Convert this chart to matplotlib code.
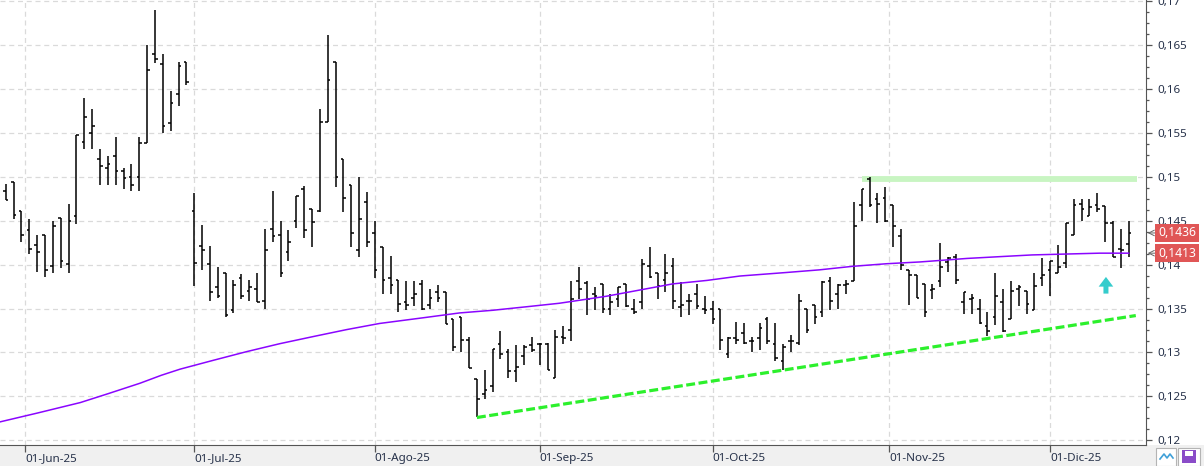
import matplotlib
matplotlib.use('Agg')
import matplotlib.pyplot as plt
import matplotlib.transforms as mtransforms
from matplotlib.patches import Rectangle
from matplotlib.ticker import MultipleLocator, FuncFormatter
import numpy as np
import pandas as pd

# daily OHLC bars, 28-May-25 .. 15-Dic-25
opens = [.1484, .1494, .1461, .1439, .1422, .1434, .1398, .1453, .1401, .1455,
         .1540, .1550, .1520, .1510, .1524, .1507, .1500, .1500, .1538, .1640,
         .1628, .1561, .1594, .1630, .1461, .1421, .1401, .1374, .1391, .1348,
         .1385, .1370, .1372, .1359, .1441, .1434, .1414, .1450, .1486, .1463,
         .1461, .1562, .1631, .1520, .1491, .1417, .1471, .1436, .1420, .1385,
         .1383, .1357, .1362, .1378, .1354, .1369, .1369, .1338, .1340, .1314,
         .1270, .1253, .1262, .1310, .1300, .1279, .1296, .1308, .1310, .1310,
         .1271, .1318, .1326, .1381, .1379, .1366, .1378, .1350, .1361, .1378,
         .1350, .1357, .1398, .1391, .1382, .1398, .1352, .1359, .1366, .1350,
         .1350, .1350, .1298, .1316, .1322, .1313, .1316, .1338, .1310, .1290,
         .1313, .1311, .1350, .1354, .1346, .1381, .1366, .1377, .1381, .1468,
         .1497, .1475, .1476, .1468, .1433, .1394, .1388, .1378, .1371, .1381,
         .1403, .1409, .1357, .1361, .1350, .1330, .1340, .1357, .1338, .1372,
         .1370, .1348, .1385, .1394, .1391, .1402, .1434, .1469, .1455, .1468,
         .1467, .1447, .1418, .1424]
highs = [.1492, .1494, .1461, .1452, .1434, .1434, .1450, .1453, .1469, .1548,
         .1590, .1577, .1531, .1524, .1545, .1510, .1515, .1545, .1650, .1690,
         .1640, .1597, .1630, .1630, .1481, .1445, .1421, .1397, .1391, .1383,
         .1389, .1383, .1391, .1441, .1484, .1450, .1439, .1478, .1489, .1463,
         .1577, .1661, .1631, .1520, .1491, .1500, .1483, .1450, .1420, .1410,
         .1383, .1381, .1381, .1383, .1372, .1377, .1369, .1338, .1340, .1318,
         .1270, .1280, .1304, .1324, .1304, .1308, .1308, .1318, .1311, .1311,
         .1326, .1330, .1381, .1397, .1381, .1374, .1378, .1366, .1375, .1378,
         .1361, .1406, .1420, .1391, .1412, .1407, .1380, .1366, .1378, .1364,
         .1359, .1350, .1318, .1335, .1333, .1318, .1334, .1340, .1334, .1310,
         .1320, .1366, .1350, .1354, .1381, .1386, .1378, .1383, .1471, .1486,
         .1500, .1481, .1488, .1468, .1441, .1394, .1388, .1378, .1378, .1425,
         .1409, .1412, .1369, .1366, .1361, .1346, .1391, .1372, .1381, .1377,
         .1370, .1391, .1407, .1404, .1422, .1447, .1475, .1475, .1475, .1481,
         .1467, .1450, .1441, .1450]
lows = [.1473, .1452, .1426, .1412, .1392, .1386, .1390, .1396, .1390, .1446,
        .1531, .1531, .1491, .1491, .1491, .1486, .1484, .1484, .1538, .1629,
        .1550, .1552, .1581, .1604, .1376, .1394, .1358, .1362, .1340, .1345,
        .1361, .1358, .1357, .1350, .1426, .1386, .1404, .1442, .1430, .1420,
        .1460, .1562, .1488, .1460, .1420, .1409, .1420, .1385, .1366, .1366,
        .1346, .1348, .1353, .1348, .1350, .1357, .1332, .1302, .1300, .1282,
        .1226, .1247, .1255, .1292, .1271, .1266, .1286, .1300, .1286, .1280,
        .1271, .1310, .1313, .1361, .1343, .1348, .1345, .1343, .1352, .1352,
        .1344, .1350, .1385, .1361, .1369, .1350, .1340, .1343, .1350, .1344,
        .1332, .1303, .1294, .1310, .1310, .1300, .1303, .1310, .1290, .1280,
        .1300, .1308, .1322, .1332, .1340, .1348, .1350, .1366, .1381, .1450,
        .1465, .1447, .1449, .1420, .1394, .1354, .1362, .1340, .1361, .1374,
        .1392, .1378, .1344, .1344, .1332, .1319, .1331, .1323, .1338, .1353,
        .1344, .1348, .1376, .1364, .1391, .1396, .1434, .1450, .1455, .1460,
        .1426, .1409, .1396, .1409]
closes = [.1474, .1457, .1434, .1418, .1414, .1394, .1444, .1404, .1450, .1547,
          .1568, .1558, .1512, .1515, .1507, .1499, .1491, .1538, .1621, .1634,
          .1558, .1584, .1626, .1608, .1402, .1417, .1369, .1364, .1343, .1377,
          .1364, .1374, .1357, .1417, .1433, .1391, .1426, .1478, .1439, .1449,
          .1562, .1610, .1500, .1476, .1436, .1452, .1426, .1394, .1383, .1377,
          .1355, .1354, .1367, .1350, .1362, .1362, .1332, .1306, .1314, .1282,
          .1247, .1257, .1304, .1298, .1279, .1284, .1306, .1303, .1310, .1280,
          .1318, .1316, .1361, .1372, .1361, .1364, .1350, .1357, .1375, .1353,
          .1346, .1401, .1386, .1376, .1391, .1359, .1354, .1359, .1353, .1348,
          .1338, .1314, .1316, .1314, .1311, .1313, .1328, .1313, .1294, .1306,
          .1313, .1359, .1326, .1340, .1380, .1359, .1377, .1378, .1444, .1486,
          .1468, .1469, .1450, .1444, .1400, .1388, .1362, .1346, .1372, .1397,
          .1407, .1383, .1369, .1362, .1334, .1324, .1364, .1324, .1370, .1374,
          .1355, .1376, .1388, .1404, .1397, .1447, .1468, .1463, .1466, .1463,
          .1447, .1409, .1417, .1436]

# long moving average, read at a set of bar positions
ma_pos = [-0.73, 4.0, 9.5, 13.0, 17.1, 19.8, 22.2, 26.4, 30.7, 34.9, 39.1, 43.4,
          47.6, 53.6, 57.8, 62.0, 66.3, 70.5, 76.5, 80.7, 84.9, 89.3, 93.5, 99.4,
          103.6, 107.8, 112.2, 116.4, 122.4, 126.5, 130.7, 139.3, 143.0]
ma_vals = [.1221, .1231, .1243, .1253, .1265, .1274, .1281, .1291, .1301, .1310,
           .1318, .1326, .1333, .1340, .1345, .1348, .1352, .1356, .1364, .1371,
           .1378, .1382, .1387, .1391, .1394, .1398, .1401, .1403, .1407, .1409,
           .1411, .1413, .1413]

trend_pos = [60, 143.9]
trend_vals = [.1226, .1342]
resist_pos = [109, 144.1]
resist_level = .14975
signal_pos = 140.1
signal_vals = [.1367, .1386]

tick_labels = ['01-Jun-25', '01-Jul-25', '01-Ago-25', '01-Sep-25',
               '01-Oct-25', '01-Nov-25', '01-Dic-25']
month_starts = pd.to_datetime(['2025-06-01', '2025-07-01', '2025-08-01', '2025-09-01',
                               '2025-10-01', '2025-11-01', '2025-12-01'])
last_labels = [.1436, .1413]

dates = pd.bdate_range('2025-05-28', periods=len(closes))
x = np.arange(len(closes))
tick_pos = []
for d in month_starts:
    k = dates.searchsorted(d)
    tick_pos.append(k if dates[k] == d else k - 0.5)

txt_col = '#27324a'
plt.rcParams['font.family'] = ['Noto Sans', 'DejaVu Sans']

fig = plt.figure(figsize=(12.04, 4.66), dpi=100, facecolor='white')
fig.patches.append(Rectangle((0, 0), 1, 21 / 466, transform=fig.transFigure,
                             facecolor='#f0f0f0', edgecolor='none', zorder=-5))
ax = fig.add_axes([0, 21 / 466, 1146 / 1204, 445 / 466])
ax.set_facecolor('white')

# bars
lw = 1.1
ax.vlines(x, lows, highs, color='black', lw=lw, zorder=3)
ax.hlines(opens, x - 0.34, x, color='black', lw=lw, zorder=3)
ax.hlines(closes, x, x + 0.34, color='black', lw=lw, zorder=3)

ax.plot(ma_pos, ma_vals, color='#8a05ff', lw=1.1, zorder=4)
ax.plot(trend_pos, trend_vals, color='#2cf02c', lw=2.3, dashes=(2.8, 1.1),
        solid_capstyle='butt', dash_capstyle='butt', zorder=4)
ax.plot(resist_pos, [resist_level, resist_level], color='#c8f5c2', lw=4.2,
        solid_capstyle='butt', zorder=2)
ax.annotate('', xy=(signal_pos, signal_vals[1]), xytext=(signal_pos, signal_vals[0]),
            arrowprops=dict(facecolor='#35cccc', edgecolor='none', width=3.6,
                            headwidth=10.5, headlength=7, shrink=0), zorder=5)

ax.set_xlim(-0.73, 145.2)
ax.set_ylim(0.11947, 0.17011)

# axes / ticks
for s in ['left', 'top']:
    ax.spines[s].set_visible(False)
ax.spines['right'].set_color('#555555')
ax.spines['bottom'].set_color('#555555')
ax.yaxis.tick_right()
ax.yaxis.set_major_locator(MultipleLocator(0.005))
ax.yaxis.set_minor_locator(MultipleLocator(0.00125))
ax.yaxis.set_major_formatter(FuncFormatter(
    lambda v, p: f'{v:.4f}'.rstrip('0').rstrip('.').replace('.', ',')))
ax.tick_params(axis='y', which='major', length=4, width=0.9, color='#555555',
               pad=4, labelsize=8.4, labelcolor=txt_col)
ax.tick_params(axis='y', which='minor', length=2.5, width=0.9, color='#555555')
ax.set_xticks(tick_pos)
ax.set_xticklabels(tick_labels)
ax.tick_params(axis='x', length=5, width=0.9, color='#555555', pad=0.5,
               labelsize=8.4, labelcolor=txt_col)
plt.setp(ax.get_xticklabels(), ha='left')

ax.grid(True, which='major', color='#dadada', lw=0.9, linestyle=(0, (4, 3)))
ax.set_axisbelow(True)

# last value labels
trans = mtransforms.blended_transform_factory(ax.transAxes, ax.transData)
for v in last_labels:
    ax.text(1.0105, v, f'{v:.4f}'.replace('.', ','), transform=trans, color='white',
            fontsize=8.8, va='center', ha='left', clip_on=False, zorder=10,
            bbox=dict(boxstyle='square,pad=0.22', facecolor='#e05656', edgecolor='none'))
    ax.annotate('', xy=(1.0015, v), xytext=(1.0085, v), xycoords=trans,
                arrowprops=dict(arrowstyle='->', color='#666666', lw=0.7,
                                shrinkA=0, shrinkB=0), annotation_clip=False)

# small toolbar icons at bottom right
fig.patches.append(Rectangle((1156 / 1204, 0.5 / 466), 20 / 1204, 18 / 466,
                             transform=fig.transFigure, facecolor='white',
                             edgecolor='#b4b4b4', lw=0.8))
fig.lines.append(plt.Line2D([1160 / 1204, 1164 / 1204, 1167 / 1204, 1170 / 1204, 1173 / 1204],
                            [7 / 466, 12 / 466, 8 / 466, 12 / 466, 8 / 466],
                            transform=fig.transFigure, color='#3fa0d8', lw=1.2))
fig.patches.append(Rectangle((1178 / 1204, 0.5 / 466), 22 / 1204, 18 / 466,
                             transform=fig.transFigure, facecolor='white',
                             edgecolor='#b4b4b4', lw=0.8))
fig.patches.append(Rectangle((1182 / 1204, 3 / 466), 14 / 1204, 13 / 466,
                             transform=fig.transFigure, facecolor='#8a4cc8',
                             edgecolor='none'))
fig.patches.append(Rectangle((1185 / 1204, 10 / 466), 8 / 1204, 5 / 466,
                             transform=fig.transFigure, facecolor='white',
                             edgecolor='none'))

fig.savefig('out.png', dpi=100, facecolor=fig.get_facecolor())
